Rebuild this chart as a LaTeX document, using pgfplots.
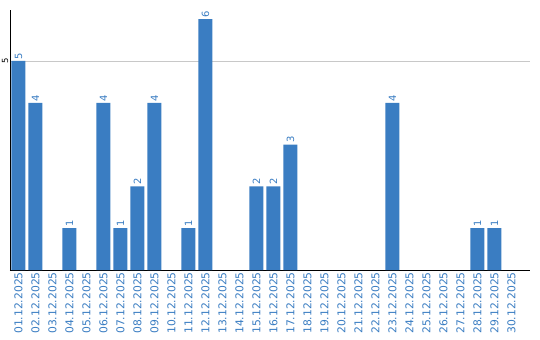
\documentclass[border=0pt]{standalone}
\usepackage{pgfplots}
\pgfplotsset{compat=1.18}
\usepackage{fontspec}
\setmainfont{DejaVu Sans}
\definecolor{barblue}{HTML}{3A7DC2}
\definecolor{gridgray}{HTML}{C8C8C8}
\begin{document}
\begin{tikzpicture}
\begin{axis}[
  scale only axis, width=520bp, height=260bp,
  xmin=-0.5, xmax=30.09, ymin=0, ymax=6.22,
  axis x line*=bottom, axis y line*=left,
  axis line style={black, line width=1pt},
  ybar, bar width=14bp,
  xtick={0,...,29},
  xticklabels={01.12.2025,02.12.2025,03.12.2025,04.12.2025,05.12.2025,06.12.2025,07.12.2025,08.12.2025,09.12.2025,10.12.2025,11.12.2025,12.12.2025,13.12.2025,14.12.2025,15.12.2025,16.12.2025,17.12.2025,18.12.2025,19.12.2025,20.12.2025,21.12.2025,22.12.2025,23.12.2025,24.12.2025,25.12.2025,26.12.2025,27.12.2025,28.12.2025,29.12.2025,30.12.2025},
  x tick label style={rotate=90, anchor=east, font=\fontsize{10.8}{11}\selectfont, text=barblue, inner sep=2bp},
  major tick length=0pt,
  ytick={5}, yticklabels={5},
  y tick label style={rotate=90, anchor=south, font=\fontsize{8.5}{9}\selectfont, text=black, inner sep=1.5bp},
  ymajorgrids, grid style={gridgray, line width=0.8pt},
  nodes near coords,
  every node near coord/.append style={rotate=90, anchor=west, font=\fontsize{10}{11}\selectfont, text=barblue, inner sep=1.5bp},
  point meta=explicit symbolic,
  clip=false,
]
\addplot[fill=barblue, draw=none] coordinates {
(0,5)[5] (1,4)[4] (3,1)[1] (5,4)[4] (6,1)[1] (7,2)[2] (8,4)[4] (10,1)[1] (11,6)[6]
(14,2)[2] (15,2)[2] (16,3)[3] (22,4)[4] (27,1)[1] (28,1)[1]
};
\end{axis}
\pgfresetboundingbox
\path (current axis.south west) ++(-10bp,-70bp) rectangle ++(540bp,340bp);
\end{tikzpicture}
\end{document}
